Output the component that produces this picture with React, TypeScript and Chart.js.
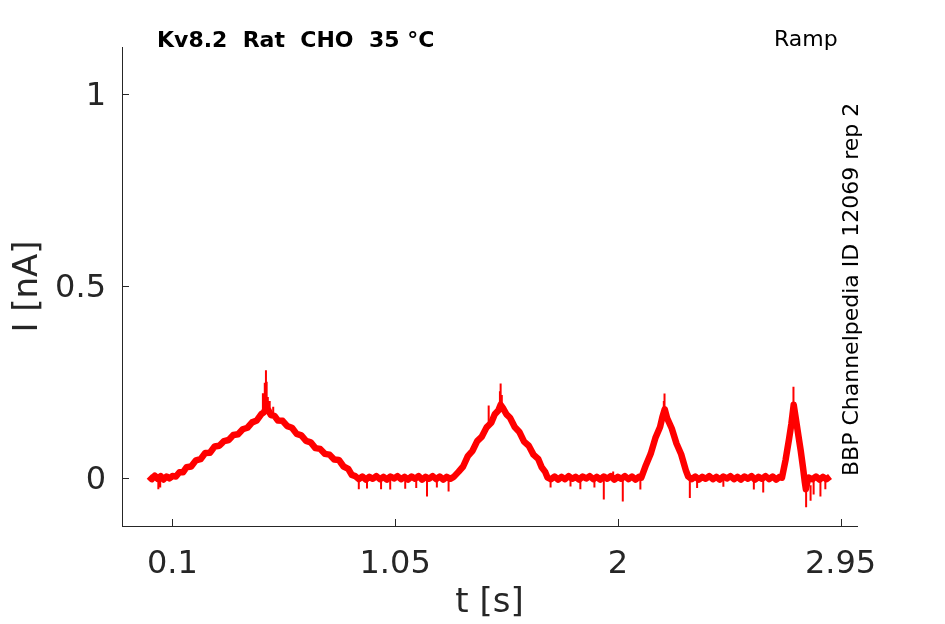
import { useEffect, useRef } from 'react';
import { Chart, registerables } from 'chart.js';

Chart.register(...registerables);

const xTickValues = [0.1, 1.05, 2, 2.95];
const yTickValues = [0, 0.5, 1];

// recorded current trace, t [s] / I [nA]
const timeS = [
  0.0, 0.012, 0.025, 0.037, 0.05, 0.062, 0.075, 0.087, 0.1,
  0.115, 0.13, 0.145, 0.16, 0.18, 0.2, 0.22, 0.24, 0.26, 0.28, 0.3, 0.32, 0.34, 0.36, 0.38, 0.4, 0.42, 0.44, 0.46, 0.48, 0.49, 0.5,
  0.51, 0.52, 0.535, 0.55, 0.57, 0.59, 0.61, 0.63, 0.65, 0.67, 0.69, 0.71, 0.73, 0.75, 0.77, 0.79, 0.81, 0.83, 0.85, 0.865, 0.88,
  0.895, 0.91, 0.925, 0.94, 0.955, 0.97, 0.985, 1.0, 1.015, 1.03, 1.045, 1.06, 1.075, 1.09, 1.105, 1.12, 1.135, 1.15, 1.165, 1.18, 1.195, 1.21, 1.225, 1.24, 1.255, 1.27, 1.285, 1.3,
  1.32, 1.34, 1.36, 1.38, 1.4, 1.42, 1.44, 1.46, 1.475, 1.49, 1.5,
  1.51, 1.525, 1.54, 1.56, 1.58, 1.6, 1.62, 1.64, 1.66, 1.675, 1.69, 1.7,
  1.715, 1.73, 1.745, 1.76, 1.775, 1.79, 1.805, 1.82, 1.835, 1.85, 1.865, 1.88, 1.895, 1.91, 1.925, 1.94, 1.955, 1.97, 1.985, 2.0, 2.015, 2.03, 2.045, 2.06, 2.075, 2.09, 2.1,
  2.12, 2.14, 2.16, 2.18, 2.19, 2.2,
  2.21, 2.23, 2.25, 2.27, 2.29, 2.3,
  2.315, 2.33, 2.345, 2.36, 2.375, 2.39, 2.405, 2.42, 2.435, 2.45, 2.465, 2.48, 2.495, 2.51, 2.525, 2.54, 2.555, 2.57, 2.585, 2.6, 2.615, 2.63, 2.645, 2.66, 2.675, 2.69, 2.7,
  2.715, 2.73, 2.74, 2.75, 2.76, 2.77, 2.78, 2.79, 2.797, 2.802, 2.808, 2.815,
  2.83, 2.845, 2.86, 2.875, 2.89, 2.905,
];
const currentNA = [
  0.003, -0.004, 0.005, -0.003, 0.004, -0.005, 0.003, -0.002, 0.004,
  0.003, 0.014, 0.014, 0.027, 0.029, 0.045, 0.048, 0.064, 0.065, 0.081, 0.083, 0.095, 0.098, 0.111, 0.113, 0.126, 0.13, 0.144, 0.149, 0.166, 0.17, 0.182,
  0.175, 0.163, 0.161, 0.149, 0.148, 0.134, 0.13, 0.114, 0.11, 0.096, 0.092, 0.077, 0.075, 0.062, 0.06, 0.047, 0.046, 0.029, 0.023, 0.007, 0.004,
  -0.004, 0.003, -0.005, 0.002, -0.003, 0.004, -0.004, 0.002, -0.005, 0.003, -0.002, 0.004, -0.004, 0.002, -0.005, 0.003, -0.003, 0.004, -0.005, 0.002, -0.003, 0.004, -0.004, 0.003, -0.005, 0.002, -0.003, 0.002,
  0.015, 0.029, 0.056, 0.07, 0.095, 0.107, 0.131, 0.143, 0.165, 0.175, 0.19,
  0.181, 0.165, 0.156, 0.132, 0.119, 0.094, 0.083, 0.06, 0.049, 0.027, 0.015, 0.0,
  -0.004, 0.003, -0.005, 0.002, -0.004, 0.004, -0.003, 0.002, -0.005, 0.003, -0.002, 0.004, -0.004, 0.002, -0.005, 0.003, -0.003, 0.004, -0.005, 0.002, -0.003, 0.004, -0.004, 0.003, -0.005, 0.002, 0.0,
  0.033, 0.062, 0.103, 0.132, 0.158, 0.178,
  0.155, 0.128, 0.089, 0.061, 0.019, 0.003,
  -0.004, 0.003, -0.005, 0.002, -0.003, 0.004, -0.004, 0.002, -0.005, 0.003, -0.002, 0.004, -0.004, 0.002, -0.005, 0.003, -0.003, 0.004, -0.005, 0.002, -0.003, 0.004, -0.004, 0.003, -0.005, 0.002, 0.0,
  0.045, 0.1, 0.14, 0.19, 0.15, 0.11, 0.07, 0.025, -0.01, -0.03, -0.012, 0.0,
  -0.004, 0.003, -0.005, 0.002, -0.004, 0.003,
];

// short noise excursions on top of the trace: time, start and tip [nA]
const spikeT = [
  0.04, 0.048, 0.895, 0.93, 0.99, 1.029, 1.093, 1.14, 1.186, 1.228, 1.278,
  0.486, 0.494, 0.499, 0.502, 0.507, 0.515, 0.53,
  1.449, 1.497, 1.5, 1.505,
  1.713, 1.798, 1.84, 1.9, 1.94, 1.98, 2.021, 2.096,
  2.196, 2.199,
  2.307, 2.338, 2.45, 2.58, 2.62, 2.749,
  2.803, 2.822, 2.835, 2.864, 2.885,
];
const spikeBase = [
  -0.006, -0.006, -0.006, -0.006, -0.006, -0.006, -0.006, -0.006, -0.006, -0.006, -0.006,
  0.17, 0.17, 0.18, 0.17, 0.17, 0.165, 0.156,
  0.13, 0.18, 0.19, 0.178,
  -0.006, -0.006, -0.006, -0.006, -0.006, 0.006, -0.006, -0.006,
  0.17, 0.175,
  -0.006, -0.006, -0.006, -0.006, -0.006, 0.18,
  -0.03, -0.02, -0.006, -0.006, -0.006,
];
const spikeTip = [
  -0.03, -0.026, -0.03, -0.028, -0.03, -0.031, -0.029, -0.027, -0.049, -0.026, -0.036,
  0.22, 0.247, 0.28, 0.25, 0.21, 0.2, 0.185,
  0.188, 0.225, 0.245, 0.215,
  -0.026, -0.023, -0.03, -0.026, -0.057, 0.016, -0.062, -0.031,
  0.2, 0.219,
  -0.053, -0.027, -0.024, -0.031, -0.039, 0.237,
  -0.077, -0.06, -0.044, -0.049, -0.03,
];

const titleText = 'Kv8.2  Rat  CHO  35 °C';
const protocolText = 'Ramp';
const sourceText = 'BBP Channelpedia ID 12069 rep 2';

const AXIS = '#262626';
const TRACE = '#ff0000';
const FONT = '"DejaVu Sans", sans-serif';

export default function App() {
  const canvasRef = useRef<HTMLCanvasElement>(null);
  const chartRef = useRef<Chart | null>(null);

  useEffect(() => {
    const canvas = canvasRef.current;
    if (!canvas) return;

    const trace = timeS.map((t, i) => ({ x: t, y: currentNA[i] }));
    const spikes = spikeT.flatMap((t, i) => [
      { x: t, y: spikeBase[i] },
      { x: t, y: spikeTip[i] },
      { x: t, y: null },
    ]);

    // inward ticks + the free texts around the axes
    const decor = {
      id: 'decor',
      afterDraw(chart: Chart) {
        const { ctx, chartArea, scales } = chart;
        ctx.save();
        ctx.strokeStyle = AXIS;
        ctx.lineWidth = 1;
        xTickValues.forEach((v) => {
          const px = Math.round(scales.x.getPixelForValue(v)) + 0.5;
          ctx.beginPath();
          ctx.moveTo(px, chartArea.bottom);
          ctx.lineTo(px, chartArea.bottom - 7);
          ctx.stroke();
        });
        yTickValues.forEach((v) => {
          const py = Math.round(scales.y.getPixelForValue(v)) + 0.5;
          ctx.beginPath();
          ctx.moveTo(chartArea.left, py);
          ctx.lineTo(chartArea.left + 7, py);
          ctx.stroke();
        });

        ctx.fillStyle = '#000';
        ctx.textAlign = 'left';
        ctx.textBaseline = 'alphabetic';
        ctx.font = `bold 22px ${FONT}`;
        ctx.fillText(titleText, 157, 47);
        ctx.font = `22px ${FONT}`;
        ctx.fillText(protocolText, 774, 46);
        ctx.translate(858, 476);
        ctx.rotate(-Math.PI / 2);
        ctx.fillText(sourceText, 0, 0);
        ctx.restore();
      },
    };

    if (chartRef.current) chartRef.current.destroy();

    chartRef.current = new Chart(canvas, {
      type: 'line',
      data: {
        datasets: [
          {
            label: 'I',
            data: trace,
            borderColor: TRACE,
            borderWidth: 6.5,
            borderJoinStyle: 'round',
            pointRadius: 0,
            tension: 0,
          },
          {
            label: 'noise',
            data: spikes,
            borderColor: TRACE,
            borderWidth: 2,
            pointRadius: 0,
            spanGaps: false,
            tension: 0,
          },
        ],
      },
      options: {
        responsive: false,
        animation: false,
        layout: { padding: { top: 47, right: 88, bottom: 0, left: 0 } },
        plugins: {
          legend: { display: false },
          tooltip: { enabled: false },
        },
        scales: {
          x: {
            type: 'linear',
            min: -0.115,
            max: 3.02,
            afterFit: (scale) => {
              scale.height = 98;
            },
            afterBuildTicks: (scale) => {
              scale.ticks = xTickValues.map((value) => ({ value }));
            },
            grid: { display: false, drawTicks: false },
            border: { display: true, color: AXIS, width: 1 },
            ticks: {
              color: AXIS,
              padding: 19,
              maxRotation: 0,
              font: { family: FONT, size: 32 },
              callback: (v) => String(v),
            },
            title: {
              display: true,
              text: 't [s]',
              color: AXIS,
              padding: { top: 0, bottom: 0 },
              font: { family: FONT, size: 34 },
            },
          },
          y: {
            type: 'linear',
            min: -0.126,
            max: 1.122,
            afterFit: (scale) => {
              scale.width = 122;
            },
            afterBuildTicks: (scale) => {
              scale.ticks = yTickValues.map((value) => ({ value }));
            },
            grid: { display: false, drawTicks: false },
            border: { display: true, color: AXIS, width: 1 },
            ticks: {
              color: AXIS,
              padding: 16,
              labelOffset: 3,
              font: { family: FONT, size: 32 },
              callback: (v) => String(v),
            },
            title: {
              display: true,
              text: 'I [nA]',
              color: AXIS,
              padding: { top: 8, bottom: 0 },
              font: { family: FONT, size: 34 },
            },
          },
        },
      },
      plugins: [decor],
    });

    return () => {
      if (chartRef.current) {
        chartRef.current.destroy();
        chartRef.current = null;
      }
    };
  }, []);

  return (
    <div style={{ position: 'absolute', left: 0, top: 0, width: 945, height: 624, background: '#fff' }}>
      <canvas ref={canvasRef} width={945} height={624} style={{ width: 945, height: 624 }} />
    </div>
  );
}
